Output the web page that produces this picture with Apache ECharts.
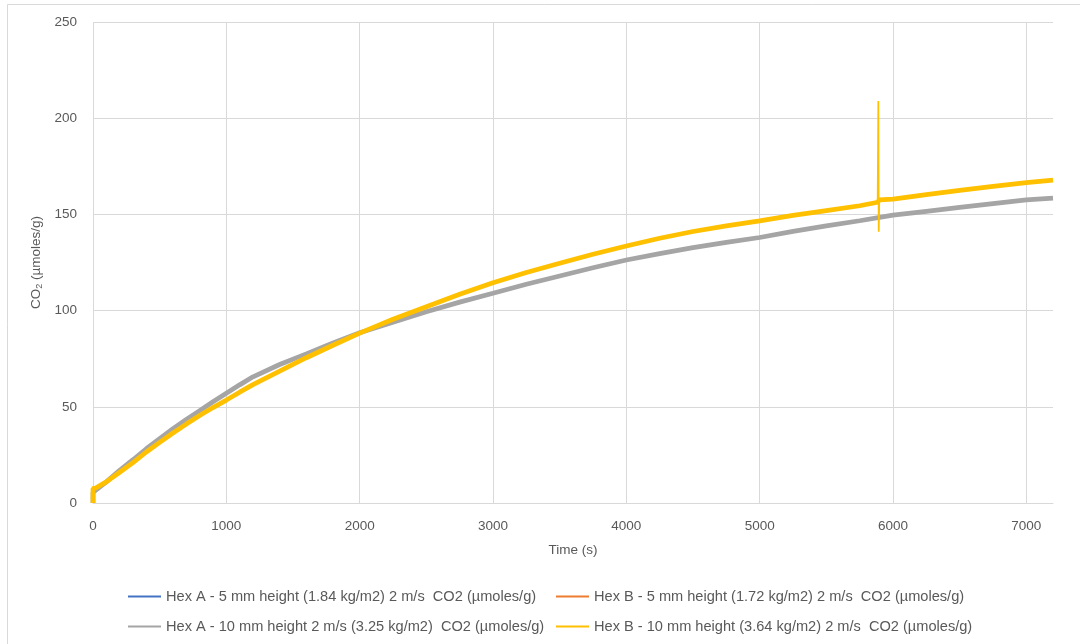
<!DOCTYPE html>
<html>
<head>
<meta charset="utf-8">
<script src="https://cdn.jsdelivr.net/npm/echarts@6/dist/echarts.min.js"></script>
<style>
  html, body { margin: 0; padding: 0; background: #fff; }
  #chart { width: 1080px; height: 644px; }
</style>
</head>
<body>
<div id="chart"></div>
<script>
// Series names (legend order)
const seriesNames = [
  'Hex A - 5 mm height (1.84 kg/m2) 2 m/s  CO2 (µmoles/g)',
  'Hex B - 5 mm height (1.72 kg/m2) 2 m/s  CO2 (µmoles/g)',
  'Hex A - 10 mm height 2 m/s (3.25 kg/m2)  CO2 (µmoles/g)',
  'Hex B - 10 mm height (3.64 kg/m2) 2 m/s  CO2 (µmoles/g)'
];
const seriesColors = ['#4472c4', '#ed7d31', '#a5a5a5', '#ffc000'];

// [time (s), CO2 (µmoles/g)]
const hexA5 = [];
const hexB5 = [];
const hexA10 = [
  [0, 0], [0, 5.5], [10, 6], [100, 11], [200, 17], [300, 22.5], [400, 28.2],
  [500, 33.5], [600, 38.6], [700, 43.4], [800, 48], [900, 52.6], [1000, 57],
  [1100, 61.4], [1200, 65.6], [1400, 72], [1600, 77.5], [1800, 83.2],
  [2000, 88.5], [2250, 94], [2500, 99.4], [2750, 104.4], [3000, 109],
  [3250, 113.7], [3500, 118], [3750, 122.3], [4000, 126.3], [4250, 129.6],
  [4500, 132.7], [4750, 135.5], [5000, 138], [5250, 141.2], [5500, 144],
  [5750, 146.7], [6000, 149.6], [6250, 151.6], [6500, 153.6], [6750, 155.6],
  [7000, 157.5], [7200, 158.5]
];
const hexB10 = [
  [0, 0], [0, 7.6], [20, 7.8], [100, 11], [200, 16], [300, 21], [400, 26.5],
  [500, 31.5], [600, 36.4], [700, 41], [800, 45.5], [900, 49.6], [1000, 53.5],
  [1100, 57.6], [1200, 61.5], [1400, 68.5], [1600, 75.5], [1800, 82],
  [2000, 88.3], [2250, 95.5], [2500, 102], [2750, 108.5], [3000, 114.5],
  [3250, 119.8], [3500, 124.6], [3750, 129.3], [4000, 133.6], [4250, 137.6],
  [4500, 141.1], [4750, 144], [5000, 146.6], [5250, 149.5], [5500, 152],
  [5750, 154.5], [5885, 156.3], [5897, 157.5], [6000, 157.9], [6250, 160.3],
  [6500, 162.5], [6750, 164.6], [7000, 166.5], [7200, 167.8]
];
// Short sensor glitch in the Hex B 10 mm run
const hexB10Spike = [[5885, 156.3], [5890, 209], [5893, 141], [5897, 157.5]];

const yTicks = { min: 0, max: 250, interval: 50 };
const xTicks = { min: 0, max: 7200, interval: 1000 };

const textColor = '#595959';
const gridColor = '#d9d9d9';
const fontFamily = '"Liberation Sans", Arial, sans-serif';

const chart = echarts.init(document.getElementById('chart'), null, { renderer: 'canvas' });

function legendAt(name, left, top) {
  return {
    data: [name], left: left, top: top, orient: 'horizontal',
    icon: 'rect', itemWidth: 33, itemHeight: 2, itemGap: 0,
    textStyle: { color: textColor, fontSize: 14.6, fontFamily: fontFamily }
  };
}

const lineSeries = (i, data, width) => ({
  name: seriesNames[i], type: 'line', data: data,
  showSymbol: false, symbol: 'none', animation: false,
  lineStyle: { color: seriesColors[i], width: width },
  itemStyle: { color: seriesColors[i] }
});

chart.setOption({
  backgroundColor: '#fff',
  animation: false,
  graphic: [{
    type: 'rect', silent: true,
    shape: { x: 7.5, y: 4.5, width: 1100, height: 700 },
    style: { fill: 'none', stroke: gridColor, lineWidth: 1 }
  }],
  grid: { left: 93, right: 27, top: 22, bottom: 141 },
  legend: [
    legendAt(seriesNames[0], 123, 584),
    legendAt(seriesNames[1], 551, 584),
    legendAt(seriesNames[2], 123, 614),
    legendAt(seriesNames[3], 551, 614)
  ],
  xAxis: {
    type: 'value', min: xTicks.min, max: xTicks.max, interval: xTicks.interval,
    name: 'Time (s)', nameLocation: 'middle', nameGap: 40,
    nameTextStyle: { color: textColor, fontSize: 13.5, fontFamily: fontFamily },
    axisLine: { show: true, lineStyle: { color: gridColor } },
    axisTick: { show: false },
    axisLabel: {
      color: textColor, fontSize: 13.5, fontFamily: fontFamily, margin: 16,
      showMaxLabel: false, formatter: (v) => String(v)
    },
    splitLine: { show: true, showMaxLine: false, lineStyle: { color: gridColor } }
  },
  yAxis: {
    type: 'value', min: yTicks.min, max: yTicks.max, interval: yTicks.interval,
    name: '{n|CO}{s|2}{n| (µmoles/g)}', nameLocation: 'middle', nameGap: 47, nameRotate: 90,
    nameTextStyle: {
      rich: {
        n: { color: textColor, fontSize: 13.5, fontFamily: fontFamily },
        s: { color: textColor, fontSize: 9, fontFamily: fontFamily, verticalAlign: 'bottom', padding: [6, 0, 0, 0] }
      }
    },
    axisLine: { show: false },
    axisTick: { show: false },
    axisLabel: { color: textColor, fontSize: 13.5, fontFamily: fontFamily, margin: 16 },
    splitLine: { show: true, lineStyle: { color: gridColor } }
  },
  series: [
    lineSeries(0, hexA5, 2.25),
    lineSeries(1, hexB5, 2.25),
    lineSeries(2, hexA10, 4.75),
    lineSeries(3, hexB10, 4.75),
    lineSeries(3, hexB10Spike, 1.75)
  ]
});
</script>
</body>
</html>
